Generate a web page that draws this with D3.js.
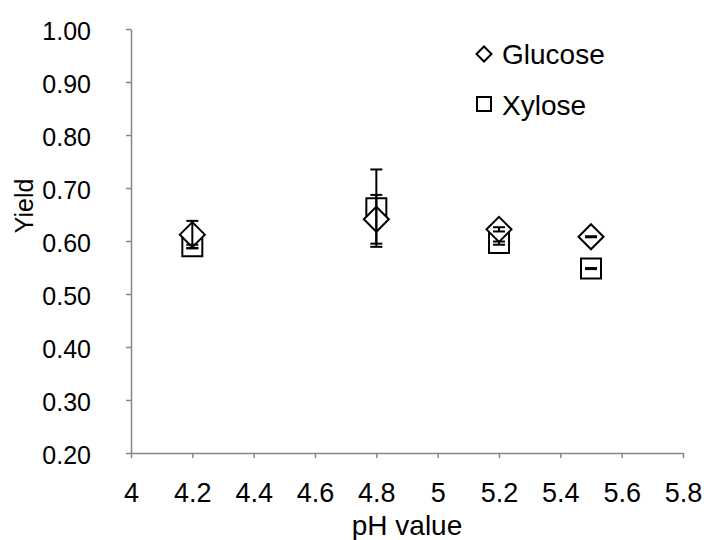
<!DOCTYPE html>
<html>
<head>
<meta charset="utf-8">
<script src="https://cdn.jsdelivr.net/npm/d3@7"></script>
<style>
  html, body { margin: 0; padding: 0; background: #fff; }
  svg { display: block; font-family: "Liberation Sans", Arial, sans-serif; }
</style>
</head>
<body>
<svg id="chart" width="710" height="540"></svg>
<script>
// pH levels tested
const phValues = [4.2, 4.8, 5.2, 5.5];
// Yield per sugar (mean) and error half-width
const glucoseYield = [0.612, 0.641, 0.622, 0.608];
const glucoseErr   = [0.026, 0.046, 0.004, 0.001];
const xyloseYield  = [0.590, 0.662, 0.596, 0.548];
const xyloseErr    = [0.003, 0.073, 0.003, 0.001];

const xTicks = [4, 4.2, 4.4, 4.6, 4.8, 5, 5.2, 5.4, 5.6, 5.8];
const xTickLabels = ["4", "4.2", "4.4", "4.6", "4.8", "5", "5.2", "5.4", "5.6", "5.8"];
const yTicks = [0.2, 0.3, 0.4, 0.5, 0.6, 0.7, 0.8, 0.9, 1.0];
const yTickLabels = ["0.20", "0.30", "0.40", "0.50", "0.60", "0.70", "0.80", "0.90", "1.00"];

const seriesNames = ["Glucose", "Xylose"];

const svg = d3.select("#chart");
const axisColor = "#868686";
const yFont = 25;   // value axis labels and title
const xFont = 27;   // category axis labels
const titleFont = 28;
const legendFont = 28;

const x = d3.scaleLinear().domain([4, 5.8]).range([131, 683]);
const y = d3.scaleLinear().domain([0.2, 1.0]).range([453, 29]);

// Axes
const xAxis = d3.axisBottom(x)
  .tickValues(xTicks)
  .tickFormat((d, i) => xTickLabels[i])
  .tickSize(5)
  .tickSizeOuter(0)
  .tickPadding(25);
const yAxis = d3.axisLeft(y)
  .tickValues(yTicks)
  .tickFormat((d, i) => yTickLabels[i])
  .tickSize(5)
  .tickSizeOuter(0)
  .tickPadding(35);

const gx = svg.append("g").attr("transform", `translate(0,${y(0.2)})`).call(xAxis);
const gy = svg.append("g").attr("transform", `translate(${x(4)},0)`).call(yAxis);

[gx, gy].forEach(g => {
  g.select(".domain").attr("stroke", axisColor).attr("stroke-width", 1.5);
  g.selectAll(".tick line").attr("stroke", axisColor).attr("stroke-width", 1.5);
  g.selectAll(".tick text")
    .attr("fill", "#000")
    .attr("font-family", "Liberation Sans, Arial, sans-serif");
});
gx.selectAll(".tick text").attr("font-size", xFont);
gy.selectAll(".tick text").attr("font-size", yFont).attr("dy", "0.4em");

// Axis titles
svg.append("text")
  .attr("x", (x(4) + x(5.8)) / 2)
  .attr("y", 535)
  .attr("text-anchor", "middle")
  .attr("font-size", titleFont)
  .attr("fill", "#000")
  .text("pH value");

svg.append("text")
  .attr("transform", `translate(33,206) rotate(-90)`)
  .attr("text-anchor", "middle")
  .attr("font-size", yFont)
  .attr("fill", "#000")
  .text("Yield");

// Marker shapes
const diamondPath = r => `M0,${-r}L${r},0L0,${r}L${-r},0Z`;
const squarePath = s => `M${-s / 2},${-s / 2}h${s}v${s}h${-s}Z`;

const glucose = phValues.map((p, i) => ({ p, v: glucoseYield[i], e: glucoseErr[i] }));
const xylose = phValues.map((p, i) => ({ p, v: xyloseYield[i], e: xyloseErr[i] }));

const marks = svg.append("g");

// Xylose squares
marks.selectAll("path.xyl")
  .data(xylose)
  .join("path")
  .attr("class", "xyl")
  .attr("d", squarePath(20))
  .attr("transform", d => `translate(${x(d.p)},${y(d.v)})`)
  .attr("fill", "#fff")
  .attr("stroke", "#000")
  .attr("stroke-width", 2);

// Glucose diamonds
marks.selectAll("path.glu")
  .data(glucose)
  .join("path")
  .attr("class", "glu")
  .attr("d", diamondPath(12.5))
  .attr("transform", d => `translate(${x(d.p)},${y(d.v)})`)
  .attr("fill", "#fff")
  .attr("stroke", "#000")
  .attr("stroke-width", 2);

// Error bars
function errorBars(data, cls) {
  const g = svg.append("g").attr("class", cls);
  const cap = 6;
  data.forEach(d => {
    const cx = x(d.p), y1 = y(d.v + d.e), y0 = y(d.v - d.e);
    g.append("line").attr("x1", cx).attr("x2", cx).attr("y1", y1).attr("y2", y0)
      .attr("stroke", "#000").attr("stroke-width", 2);
    [y1, y0].forEach(yy => {
      g.append("line").attr("x1", cx - cap).attr("x2", cx + cap).attr("y1", yy).attr("y2", yy)
        .attr("stroke", "#000").attr("stroke-width", 2);
    });
  });
}
errorBars(glucose, "err-glu");
errorBars(xylose, "err-xyl");

// Legend
const legend = svg.append("g");
legend.append("path")
  .attr("d", diamondPath(7.5))
  .attr("transform", "translate(484,54)")
  .attr("fill", "#fff").attr("stroke", "#000").attr("stroke-width", 2);
legend.append("text")
  .attr("x", 502).attr("y", 64)
  .attr("font-size", legendFont).attr("fill", "#000")
  .text(seriesNames[0]);
legend.append("path")
  .attr("d", squarePath(14))
  .attr("transform", "translate(484,104)")
  .attr("fill", "#fff").attr("stroke", "#000").attr("stroke-width", 2);
legend.append("text")
  .attr("x", 502).attr("y", 115)
  .attr("font-size", legendFont).attr("fill", "#000")
  .text(seriesNames[1]);
</script>
</body>
</html>
